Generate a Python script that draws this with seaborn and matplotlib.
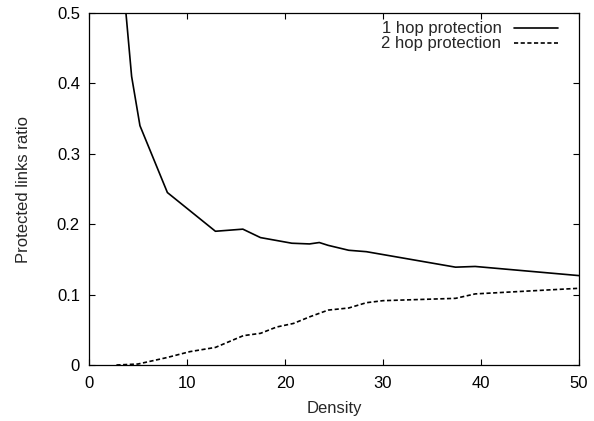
import matplotlib
matplotlib.use("Agg")
import matplotlib.pyplot as plt
import pandas as pd
import seaborn as sns
from matplotlib.lines import Line2D

# values
density_1hop = [3.0, 4.35, 5.2, 8.0, 12.9, 15.7, 17.5, 20.7, 22.5, 23.5, 24.4, 26.5, 28.3, 37.4, 39.4, 50.0]
ratio_1hop = [0.62, 0.41, 0.34, 0.245, 0.190, 0.193, 0.181, 0.173, 0.172, 0.174, 0.170, 0.163, 0.161, 0.139, 0.140, 0.127]

density_2hop = [2.8, 5.0, 7.9, 10.3, 12.9, 15.75, 17.5, 19.15, 20.85, 22.55, 24.4, 26.5, 28.3, 30.0, 37.4, 39.4, 50.0]
ratio_2hop = [0.0, 0.0014, 0.0104, 0.019, 0.025, 0.0417, 0.045, 0.054, 0.059, 0.0686, 0.078, 0.081, 0.0885, 0.0914, 0.0947, 0.101, 0.109]

series_names = ["1 hop protection", "2 hop protection"]
x_ticks = [0, 10, 20, 30, 40, 50]
y_ticks = [0, 0.1, 0.2, 0.3, 0.4, 0.5]
y_tick_labels = ["0", "0.1", "0.2", "0.3", "0.4", "0.5"]

df = pd.concat([
    pd.DataFrame({"density": density_1hop, "ratio": ratio_1hop, "series": series_names[0]}),
    pd.DataFrame({"density": density_2hop, "ratio": ratio_2hop, "series": series_names[1]}),
])

sns.set_style("ticks")
plt.rcParams["font.family"] = ["Liberation Sans", "DejaVu Sans"]
FS = 12

fig = plt.figure(figsize=(5.94, 4.21), dpi=100)
ax = fig.add_axes([0.1498, 0.133, 0.825, 0.836])

dashes = {series_names[0]: "", series_names[1]: (2.5, 1.5)}
sns.lineplot(data=df, x="density", y="ratio", hue="series", style="series",
             palette=["black", "black"], dashes=dashes, linewidth=1.2,
             sort=False, legend=False, ax=ax)

ax.set_xlim(0, 50)
ax.set_ylim(0, 0.5)
ax.set_xticks(x_ticks)
ax.set_yticks(y_ticks)
ax.set_yticklabels(y_tick_labels)
ax.tick_params(direction="in", length=4.5, width=0.8, top=True, right=True,
               labelsize=FS, colors="black")
ax.tick_params(axis="y", pad=6.5)
ax.tick_params(axis="x", pad=8)
for s in ax.spines.values():
    s.set_visible(True)
    s.set_linewidth(0.9)
    s.set_color("black")
ax.set_xlabel("Density", fontsize=FS, labelpad=7)
ax.set_ylabel("Protected links ratio", fontsize=FS, labelpad=18.5)

handles = [Line2D([], [], color="black", lw=1.2),
           Line2D([], [], color="black", lw=1.2, dashes=(2.5, 1.5))]
ax.legend(handles, series_names, loc="upper right", frameon=False,
          markerfirst=False, fontsize=FS, handlelength=2.64,
          handletextpad=0.78, labelspacing=0.0, borderaxespad=0.1,
          bbox_to_anchor=(0.975, 1.0))

fig.savefig("out.png", dpi=100)
